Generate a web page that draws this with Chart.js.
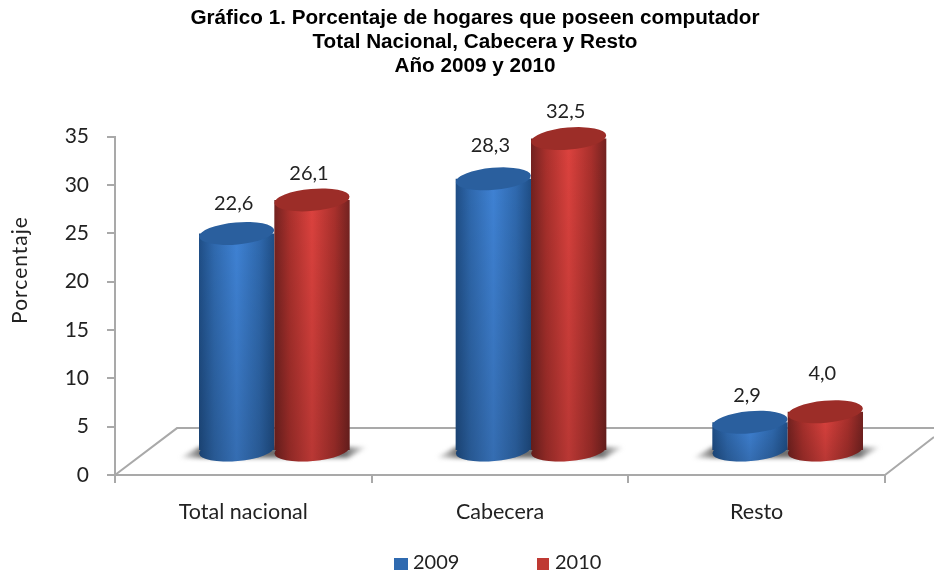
<!DOCTYPE html>
<html lang="es">
<head>
<meta charset="utf-8">
<title>Gráfico 1</title>
<script src="https://cdn.jsdelivr.net/npm/chart.js@4"></script>
<style>
  html, body { margin: 0; padding: 0; background: #fff; }
  canvas { display: block; }
</style>
</head>
<body>
<canvas id="grafico" width="934" height="574"></canvas>
<script>
// ============================================================
// DATOS
// ============================================================
const categories = ["Total nacional", "Cabecera", "Resto"];
const series2009 = [22.6, 28.3, 2.9];
const series2010 = [26.1, 32.5, 4.0];
const seriesNames = ["2009", "2010"];
const titleLines = [
  "Gráfico 1. Porcentaje de hogares que poseen computador",
  "Total Nacional, Cabecera y Resto",
  "Año 2009 y 2010"
];
const yTicks = [0, 5, 10, 15, 20, 25, 30, 35];
const yAxisTitle = "Porcentaje";

// ============================================================
// CONFIG
// ============================================================
const DEPTH_X = 31;          // bars stand halfway back on the floor
const CAP_RY = 11;
const CAP_TILT = -0.09;
const labelLift = [[30, 33, 27], [26, 27, 38]];  // value label height above each cap
const legendSpots = [{ box: 394, w: 14, text: 413 }, { box: 537, w: 12, text: 555 }];
const textColor = "#222";
const axisGray = "#a9a9a9";
const fontFamily = "Lato, sans-serif";

const palette = [
  { flat: "#2f6ab0", edge: "#1f4e86", near: "#2f69ae", mid: "#3f82d4", cap: "#2a5f9e" },
  { flat: "#bf3a33", edge: "#732220", near: "#a9302c", mid: "#dc423e", cap: "#9c2d28" }
];

// ============================================================
// PISO 3D Y SOMBRAS
// ============================================================
const floorPlugin = {
  id: "floor",
  beforeDatasetsDraw(chart) {
    const { ctx, scales: { x, y } } = chart;
    const front = y.getPixelForValue(0);
    const back = y.getPixelForValue(4.85);
    ctx.save();
    ctx.strokeStyle = axisGray;
    ctx.lineWidth = 2;
    ctx.beginPath();
    ctx.moveTo(x.left, front);
    ctx.lineTo(x.left + 62, back);
    ctx.lineTo(934, back);
    ctx.moveTo(x.right, front);
    ctx.lineTo(x.right + 49, front - 38);
    ctx.stroke();

    const first = chart.getDatasetMeta(0).data;
    const second = chart.getDatasetMeta(1).data;
    ctx.filter = "blur(2px)";
    first.forEach((el, i) => {
      const l = el.x + DEPTH_X - el.width / 2 - 20;
      const r = second[i].x + DEPTH_X + second[i].width / 2 + 18;
      const g = ctx.createLinearGradient(l, 0, r, 0);
      g.addColorStop(0, "rgba(110,110,110,0)");
      g.addColorStop(0.12, "rgba(110,110,110,1)");
      g.addColorStop(0.88, "rgba(110,110,110,1)");
      g.addColorStop(1, "rgba(110,110,110,0)");
      ctx.fillStyle = g;
      ctx.beginPath();
      ctx.moveTo(l, el.base + 8);
      ctx.lineTo(l + 20, el.base - 3);
      ctx.lineTo(r, el.base - 3);
      ctx.lineTo(r - 20, el.base + 8);
      ctx.closePath();
      ctx.fill();
    });
    ctx.restore();
  }
};

// ============================================================
// CILINDROS
// ============================================================
function drawCylinder(ctx, el, c) {
  const cx = el.x + DEPTH_X;
  const left = cx - el.width / 2;
  const rx = el.width / 2;

  const side = ctx.createLinearGradient(left, 0, left + el.width, 0);
  side.addColorStop(0, c.edge);
  side.addColorStop(0.2, c.near);
  side.addColorStop(0.5, c.mid);
  side.addColorStop(0.8, c.near);
  side.addColorStop(1, c.edge);

  const body = () => {
    ctx.beginPath();
    ctx.rect(left, el.y, el.width, el.base - el.y);
    ctx.ellipse(cx, el.base, rx, CAP_RY, CAP_TILT, 0, Math.PI * 2);
  };
  ctx.fillStyle = side;
  body();
  ctx.fill();

  // se oscurece un poco hacia abajo
  const shade = ctx.createLinearGradient(0, el.y, 0, el.base + CAP_RY);
  shade.addColorStop(0, "rgba(0,0,0,0)");
  shade.addColorStop(1, "rgba(0,0,0,0.16)");
  ctx.fillStyle = shade;
  body();
  ctx.fill();

  ctx.fillStyle = c.cap;
  ctx.beginPath();
  ctx.ellipse(cx, el.y, rx, CAP_RY, CAP_TILT, 0, Math.PI * 2);
  ctx.fill();
}

const cylinderPlugin = {
  id: "cylinder",
  beforeDatasetDraw() {
    return false;   // the flat bars only give the geometry
  },
  afterDatasetsDraw(chart) {
    const ctx = chart.ctx;
    ctx.save();
    chart.data.datasets.forEach((ds, d) => {
      chart.getDatasetMeta(d).data.forEach(el => drawCylinder(ctx, el, palette[d]));
    });

    // etiquetas de valores
    ctx.font = "20px " + fontFamily;
    ctx.fillStyle = textColor;
    ctx.textAlign = "center";
    ctx.textBaseline = "middle";
    chart.data.datasets.forEach((ds, d) => {
      chart.getDatasetMeta(d).data.forEach((el, i) => {
        const text = ds.data[i].toFixed(1).replace(".", ",");
        ctx.fillText(text, el.x + DEPTH_X - 3, el.y - labelLift[d][i]);
      });
    });
    ctx.restore();
  }
};

// ============================================================
// TITULO DEL EJE Y LEYENDA
// ============================================================
const extrasPlugin = {
  id: "extras",
  afterLayout(chart) {
    // the title sits over the whole picture, not the plot
    chart.titleBlock.left += 32.5;
    chart.titleBlock.right += 32.5;
  },
  afterDraw(chart) {
    const ctx = chart.ctx;
    ctx.save();
    ctx.fillStyle = textColor;
    ctx.font = "21px " + fontFamily;
    ctx.letterSpacing = "1px";
    ctx.textAlign = "center";
    ctx.textBaseline = "middle";
    ctx.translate(20, 270);
    ctx.rotate(-Math.PI / 2);
    ctx.fillText(yAxisTitle, 0, 0);
    ctx.restore();

    ctx.save();
    ctx.font = "20px " + fontFamily;
    ctx.textBaseline = "middle";
    seriesNames.forEach((name, i) => {
      const spot = legendSpots[i];
      ctx.fillStyle = palette[i].flat;
      ctx.fillRect(spot.box, 558, spot.w, 12);
      ctx.fillStyle = textColor;
      ctx.fillText(name, spot.text, 563);
    });
    ctx.restore();
  }
};

// ============================================================
// GRAFICO
// ============================================================
new Chart(document.getElementById("grafico").getContext("2d"), {
  type: "bar",
  data: {
    labels: categories,
    datasets: [
      { label: seriesNames[0], data: series2009, backgroundColor: palette[0].flat, yAxisID: "yBars" },
      { label: seriesNames[1], data: series2010, backgroundColor: palette[1].flat, yAxisID: "yBars" }
    ]
  },
  plugins: [floorPlugin, cylinderPlugin, extrasPlugin],
  options: {
    responsive: false,
    animation: false,
    events: [],
    layout: { padding: { left: 0, right: 49, top: 0, bottom: 44 } },
    datasets: { bar: { categoryPercentage: 0.587, barPercentage: 1 } },
    scales: {
      x: {
        afterFit(axis) { axis.height = 55; },
        grid: { drawOnChartArea: false, tickLength: 8, color: axisGray, lineWidth: 2 },
        border: { color: axisGray, width: 2 },
        ticks: { color: textColor, font: { family: fontFamily, size: 21.5 }, padding: 16 }
      },
      y: {
        min: 0,
        max: 35,
        afterFit(axis) { axis.width = 115; },
        afterBuildTicks(axis) { axis.ticks = yTicks.map(value => ({ value })); },
        grid: { drawOnChartArea: false, tickLength: 8, color: axisGray, lineWidth: 2 },
        border: { color: axisGray, width: 2 },
        ticks: { color: textColor, font: { family: fontFamily, size: 21 }, padding: 18 }
      },
      // the cylinders rise from the middle of the floor, not from the front edge
      yBars: { display: false, min: -2.6, max: 32.7 }
    },
    plugins: {
      tooltip: { enabled: false },
      legend: { display: false },
      title: {
        display: true,
        text: titleLines,
        color: "#000",
        font: { family: "Liberation Sans", size: 20.7, weight: "bold", lineHeight: 1.17 },
        padding: { top: 6, bottom: 58 }
      }
    }
  }
});
</script>
</body>
</html>
